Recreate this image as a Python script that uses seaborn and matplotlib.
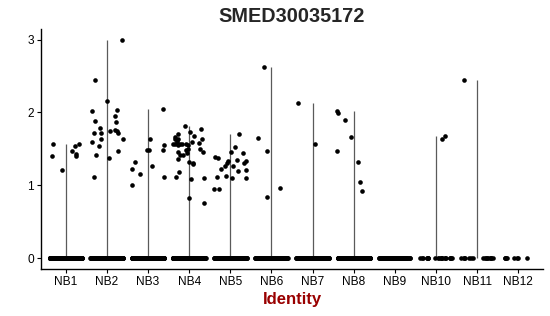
import numpy as np
import pandas as pd
import matplotlib
matplotlib.use("Agg")
import matplotlib.pyplot as plt
import seaborn as sns

# ---------------- data ----------------
groups = ["NB1", "NB2", "NB3", "NB4", "NB5", "NB6", "NB7", "NB8", "NB9", "NB10", "NB11", "NB12"]
zero_counts = [300, 260, 260, 300, 260, 130, 160, 160, 90, 22, 16, 8]

nb1_vals = [1.57, 1.40, 1.21, 1.54, 1.47, 1.43, 1.40, 1.57]
nb1_jit = [-0.30, -0.34, -0.10, 0.23, 0.16, 0.25, 0.26, 0.33]

nb2_vals = [2.99, 2.45, 2.15, 2.02, 2.03, 1.88, 1.95, 1.87, 1.79, 1.72, 1.72, 1.74, 1.76, 1.75,
            1.72, 1.64, 1.63, 1.59, 1.54, 1.47, 1.42, 1.37, 1.12]
nb2_jit = [0.37, -0.28, 0.00, -0.37, 0.24, -0.28, 0.19, 0.23, -0.16, -0.30, -0.14, 0.07, 0.20, 0.25,
           0.27, 0.40, -0.15, -0.36, -0.18, 0.26, -0.27, 0.06, -0.31]

nb3_vals = [2.05, 1.63, 1.49, 1.49, 1.55, 1.49, 1.32, 1.23, 1.15, 1.27, 1.01, 1.12]
nb3_jit = [0.36, 0.04, -0.03, 0.03, 0.40, 0.37, -0.32, -0.39, -0.20, 0.09, -0.39, 0.40]

nb4_vals = [1.81, 1.71, 1.66, 1.64, 1.63, 1.61, 1.57, 1.56, 1.58, 1.55, 1.57, 1.56, 1.57, 1.55,
            1.59, 1.73, 1.67, 1.77, 1.64, 1.58, 1.50, 1.46, 1.46, 1.42, 1.44, 1.50, 1.41, 1.48,
            1.36, 1.30, 1.32, 1.29, 1.11, 1.18, 1.09, 1.10, 0.83, 0.76]
nb4_jit = [-0.11, -0.28, -0.34, -0.28, -0.35, -0.29, -0.38, -0.34, -0.30, -0.27, -0.22, -0.18, -0.07, -0.02,
           0.07, 0.01, 0.13, 0.28, 0.32, 0.23, 0.27, 0.33, -0.26, -0.22, -0.06, -0.02, -0.14, -0.08,
           -0.26, 0.09, 0.00, 0.10, -0.32, -0.24, 0.04, 0.37, 0.00, 0.35]

nb5_vals = [1.71, 1.53, 1.45, 1.44, 1.39, 1.37, 1.35, 1.33, 1.30, 1.33, 1.30, 1.26, 1.26, 1.23,
            1.20, 1.21, 1.13, 1.11, 1.10, 1.10, 0.95, 0.95]
nb5_jit = [0.21, 0.11, 0.01, 0.32, -0.36, -0.31, 0.17, 0.38, 0.33, -0.06, -0.09, -0.12, 0.07, -0.23,
           0.19, 0.37, -0.10, -0.32, 0.03, 0.38, -0.39, -0.27]

nb6_vals = [2.63, 1.65, 1.47, 0.96, 0.84]
nb6_jit = [-0.17, -0.32, -0.10, 0.21, -0.10]

nb7_vals = [2.13, 1.57]
nb7_jit = [-0.35, 0.07]

nb8_vals = [2.02, 1.99, 1.89, 1.66, 1.47, 1.32, 1.04, 0.92]
nb8_jit = [-0.40, -0.38, -0.22, -0.06, -0.40, 0.11, 0.15, 0.21]

nb9_vals, nb9_jit = [], []

nb10_vals = [1.64, 1.67]
nb10_jit = [0.15, 0.23]

nb11_vals = [2.44]
nb11_jit = [-0.31]

nb12_vals, nb12_jit = [], []

title = "SMED30035172"
xlabel = "Identity"
yticks = [0, 1, 2, 3]

all_vals = [nb1_vals, nb2_vals, nb3_vals, nb4_vals, nb5_vals, nb6_vals,
            nb7_vals, nb8_vals, nb9_vals, nb10_vals, nb11_vals, nb12_vals]
all_jit = [nb1_jit, nb2_jit, nb3_jit, nb4_jit, nb5_jit, nb6_jit,
           nb7_jit, nb8_jit, nb9_jit, nb10_jit, nb11_jit, nb12_jit]

# ---------------- build table ----------------
rng = np.random.default_rng(11)
rows = []
for i, g in enumerate(groups):
    for v, j in zip(all_vals[i], all_jit[i]):
        rows.append((g, i + j, v))
    zj = rng.uniform(-0.4, 0.4, zero_counts[i])
    for j in zj:
        rows.append((g, i + j, 0.0))
df = pd.DataFrame(rows, columns=["ident", "xpos", "expr"])

# ---------------- plot ----------------
sns.set_style("ticks")
plt.rcParams["font.family"] = ["Liberation Sans", "DejaVu Sans"]

fig = plt.figure(figsize=(5.5, 3.16), dpi=100)
ax = fig.add_axes([41 / 550, 1 - 269 / 316, (543 - 41) / 550, (269 - 29.4) / 316])

# violin outlines (collapsed to thin lines since most cells are zero)
maxes = df.groupby("ident", sort=False)["expr"].max().reindex(groups)
for i, g in enumerate(groups):
    m = maxes[g]
    if m > 0:
        ax.vlines(i, 0, m, color="#5a5a5a", lw=0.9, zorder=1)

sns.scatterplot(data=df, x="xpos", y="expr", color="black", s=11, linewidth=0,
                ax=ax, zorder=2, legend=False)

ymax = df["expr"].max()
ax.set_xlim(-0.6, len(groups) - 0.4)
ax.set_ylim(-0.05 * ymax, 1.05 * ymax)
ax.set_xticks(range(len(groups)))
ax.set_xticklabels(groups)
ax.set_yticks(yticks)
ax.set_yticklabels([str(t) for t in yticks])
ax.tick_params(axis="both", labelsize=8.6, length=3, width=0.8, color="black",
               labelcolor="black", pad=2)
for side in ["top", "right"]:
    ax.spines[side].set_visible(False)
for side in ["left", "bottom"]:
    ax.spines[side].set_linewidth(1.0)
    ax.spines[side].set_color("black")

ax.set_ylabel("")
ax.set_xlabel(xlabel, fontsize=12, fontweight="bold", color="#990000", labelpad=3)
ax.set_title(title, fontsize=14.3, fontweight="bold", pad=5.3)

fig.savefig("out.png", dpi=100)
